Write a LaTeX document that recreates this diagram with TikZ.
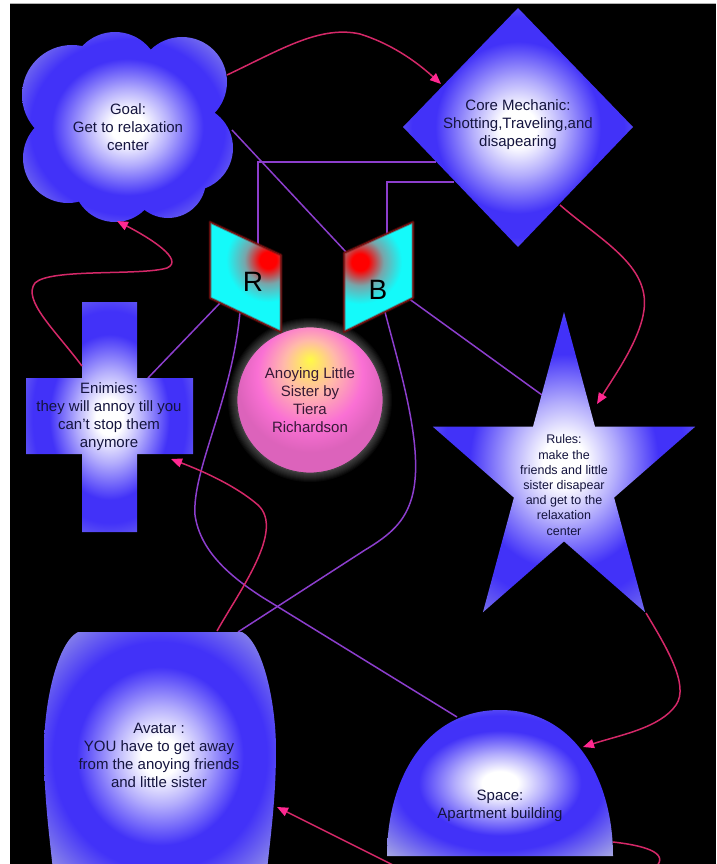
\documentclass[tikz,border=0pt]{standalone}
\usepackage{fontspec}
\setmainfont{Liberation Sans}
\usetikzlibrary{arrows.meta}

\definecolor{shapeblue}{RGB}{66,50,248}
\definecolor{shapelav}{RGB}{165,165,228}
\definecolor{linkpurple}{RGB}{140,62,205}
\definecolor{linkpink}{RGB}{212,40,104}
\definecolor{tippink}{RGB}{255,40,145}
\definecolor{labelink}{RGB}{20,20,62}
\definecolor{sisterink}{RGB}{55,25,55}
\definecolor{panelcyan}{RGB}{20,250,250}
\definecolor{spotmid}{RGB}{120,165,170}
\definecolor{panelrim}{RGB}{120,15,15}
\definecolor{ballpink}{RGB}{250,112,212}
\definecolor{ballyellow}{RGB}{255,250,70}
\definecolor{ballpeach}{RGB}{255,185,170}

% white core, saturated blue body, pale rim in the far corners
\pgfdeclareradialshading{glow}{\pgfpoint{0bp}{0bp}}{color(0bp)=(white); color(4bp)=(white); color(10bp)=(shapeblue!40!white); color(18bp)=(shapeblue); color(23bp)=(shapeblue); color(35bp)=(shapelav); color(50bp)=(shapelav)}
% red hot spot on the cyan panels
\pgfdeclareradialshading{redspot}{\pgfpoint{0bp}{0bp}}{color(0bp)=(red); color(5bp)=(red); color(14bp)=(spotmid); color(25bp)=(panelcyan); color(50bp)=(panelcyan)}
% yellow highlight on the pink ball
\pgfdeclareradialshading{sisterball}{\pgfpoint{0bp}{14bp}}{color(0bp)=(ballyellow); color(9bp)=(ballpeach); color(18bp)=(ballpink); color(25bp)=(ballpink!88!black); color(50bp)=(ballpink!88!black)}

\tikzset{
  purplelink/.style={draw=linkpurple, line width=1.5pt},
  pinklink/.style={draw=linkpink, line width=1.5pt, -{Triangle[length=11pt,width=9pt,color=tippink]}},
  lbl/.style={align=center, text=labelink, inner sep=0pt, font=\fontsize{15}{18}\selectfont},
  smalllbl/.style={lbl, font=\fontsize{12.5}{15.2}\selectfont},
  panelbox/.style={fill=panelcyan},
  panelrimline/.style={draw=panelrim, line width=1.2pt, line join=round},
  panelletter/.style={inner sep=0pt, text=black, font=\fontsize{28}{30}\selectfont},
}

\begin{document}
\begin{tikzpicture}[x=1pt,y=-1pt]
\useasboundingbox (0,0) rectangle (716,864);
\fill[white] (0,0) rectangle (716,864);
\fill[black] (10,4) rectangle (716,864);
\draw[gray!60, line width=0.8pt] (10,3.6) -- (716,3.6);

\begin{scope}
\clip (10,4) rectangle (716,864);

% ---------- connection points ----------
\coordinate (goalE)    at (227,75);
\coordinate (goalR)    at (232,130);
\coordinate (goalS)    at (117,221);
\coordinate (coreW)    at (441,84);
\coordinate (coreL1)   at (436,162);
\coordinate (coreL2)   at (454,182);
\coordinate (coreSE)   at (560,205);
\coordinate (bendR)    at (258,162);
\coordinate (bendB)    at (387,182);
\coordinate (rTop)     at (258,244);
\coordinate (rLeft)    at (220,303);
\coordinate (rBottom)  at (240,312);
\coordinate (bTop)     at (387,234);
\coordinate (bCorner)  at (346,252);
\coordinate (bRight)   at (410,299.5);
\coordinate (bBottom)  at (385,312);
\coordinate (enemyE)   at (171,459);
\coordinate (enemyNE)  at (148,378);
\coordinate (enemyNW)  at (82,366);
\coordinate (rulesNE)  at (597,404);
\coordinate (rulesUL)  at (542,395);
\coordinate (rulesS)   at (646,613);
\coordinate (spaceNE)  at (583,747);
\coordinate (spaceNW)  at (457,717);
\coordinate (spaceE)   at (613,842);
\coordinate (avatarE)  at (277,807);
\coordinate (avatarN)  at (217,631);
\coordinate (avatarNE) at (238,632);

% ---------- purple links ----------
\draw[purplelink] (goalR) -- (bCorner);
\draw[purplelink] (coreL1) -- (bendR) -- (rTop);
\draw[purplelink] (coreL2) -- (bendB) -- (bTop);
\draw[purplelink] (rLeft) -- (enemyNE);
\draw[purplelink] (bRight) -- (rulesUL);
\draw[purplelink] (rBottom) .. controls (232,400) and (192,470) .. (195,515)
                  .. controls (200,550) and (228,575) .. (262,597) -- (spaceNW);
\draw[purplelink] (bBottom) .. controls (400,370) and (425,450) .. (412,497)
                  .. controls (405,522) and (390,535) .. (365,550) -- (avatarNE);

% ---------- Goal (cloud) ----------
\shade[shading=glow] (72,95) circle[radius=50] (115,77) circle[radius=45]
  (182,82) circle[radius=45] (190,148) circle[radius=43] (168,180) circle[radius=38]
  (115,180) circle[radius=42] (68,158) circle[radius=45] (128,128) circle[radius=62];

% ---------- Core Mechanic (diamond) ----------
\shade[shading=glow] (518,8) -- (633,127) -- (518,247) -- (403,127) -- cycle;

% ---------- Enimies (cross) ----------
\shade[shading=glow] (82,302) -- (137,302) -- (137,378) -- (193,378) -- (193,454)
  -- (137,454) -- (137,532) -- (82,532) -- (82,454) -- (26,454) -- (26,378)
  -- (82,378) -- cycle;

% ---------- Rules (star) ----------
\shade[shading=glow] (564,312) -- (595,426.7) -- (695.2,426.7) -- (614.1,497.6)
  -- (645.1,612.3) -- (564,541.4) -- (482.9,612.3) -- (513.9,497.6)
  -- (432.8,426.7) -- (533,426.7) -- cycle;

% ---------- Avatar (barrel) ----------
\shade[shading=glow] (78,632) -- (242,632) .. controls (262,642) and (276,700) .. (276,750)
  .. controls (276,800) and (270,840) .. (266,880) -- (54,880)
  .. controls (50,840) and (44,800) .. (44,750) .. controls (44,700) and (58,642) .. (78,632)
  -- cycle;

% ---------- Space (dome) ----------
\shade[shading=glow] (387,856) .. controls (387,780) and (425,710) .. (500,710)
  .. controls (575,710) and (613,780) .. (613,856) -- cycle;

% ---------- title ball ----------
\foreach \r in {1,...,9}
  \fill[white, opacity=0.03] (310,400) circle[radius={73+\r}];
\shade[shading=sisterball] (310,400) circle[radius=73];
\draw[black!75, line width=0.8pt] (310,400) circle[radius=73];

% ---------- R and B panels ----------
\fill[panelbox] (210,222) -- (281,255) -- (281,332) -- (210,298) -- cycle;
\begin{scope}
  \clip (210,222) -- (281,255) -- (281,332) -- (210,298) -- cycle;
  \shade[shading=redspot] (268,260) circle[radius=42];
\end{scope}
\draw[panelrim, line width=3pt, opacity=0.4, line join=round] (210,222) -- (281,255) -- (281,332) -- (210,298) -- cycle;
\draw[panelrimline] (210,222) -- (281,255) -- (281,332) -- (210,298) -- cycle;

\fill[panelbox] (413,222) -- (344,253) -- (344,332) -- (413,298) -- cycle;
\begin{scope}
  \clip (413,222) -- (344,253) -- (344,332) -- (413,298) -- cycle;
  \shade[shading=redspot] (360,262) circle[radius=42];
\end{scope}
\draw[panelrim, line width=3pt, opacity=0.4, line join=round] (413,222) -- (344,253) -- (344,332) -- (413,298) -- cycle;
\draw[panelrimline] (413,222) -- (344,253) -- (344,332) -- (413,298) -- cycle;

\node[panelletter] (rletter) at (253,282) {R};
\node[panelletter] (bletter) at (378,290) {B};

% ---------- labels ----------
\node[lbl] (goal) at (128,127) {Goal:\\Get to relaxation\\center};
\node[lbl] (core) at (518,125) {Core Mechanic:\\Shotting,Traveling,and\\disapearing};
\node[lbl] (enemies) at (109,417) {Enimies:\\they will annoy till you\\can't stop them\\anymore};
\node[lbl, text=sisterink] (sister) at (310,400) {Anoying Little\\Sister by\\Tiera\\Richardson};
\node[smalllbl] (rules) at (564,485) {Rules:\\make the\\friends and little\\sister disapear\\and get to the\\relaxation\\center};
\node[lbl] (avatar) at (159,755) {Avatar :\\YOU have to get away\\from the anoying friends\\and little sister};
\node[lbl] (space) at (500,806) {Space:\\Apartment building};

% ---------- pink arrows ----------
\draw[pinklink] (goalE) .. controls (280,50) and (320,25) .. (360,34)
                .. controls (395,45) and (420,65) .. (coreW);
\draw[pinklink] (coreSE) .. controls (600,240) and (650,265) .. (644,310)
                .. controls (640,340) and (615,375) .. (rulesNE);
\draw[pinklink] (rulesS) .. controls (665,645) and (690,685) .. (676,705)
                .. controls (660,728) and (620,735) .. (spaceNE);
\draw[pinklink] (spaceE) .. controls (640,845) and (672,852) .. (655,868)
                .. controls (620,895) and (430,890) .. (395,866) -- (avatarE);
\draw[pinklink] (avatarN) .. controls (240,590) and (285,530) .. (258,505)
                .. controls (235,485) and (200,470) .. (enemyE);
\draw[pinklink] (enemyNW) .. controls (55,330) and (22,300) .. (35,283)
                .. controls (50,268) and (140,276) .. (167,268)
                .. controls (185,260) and (150,238) .. (goalS);
\end{scope}
\end{tikzpicture}
\end{document}
